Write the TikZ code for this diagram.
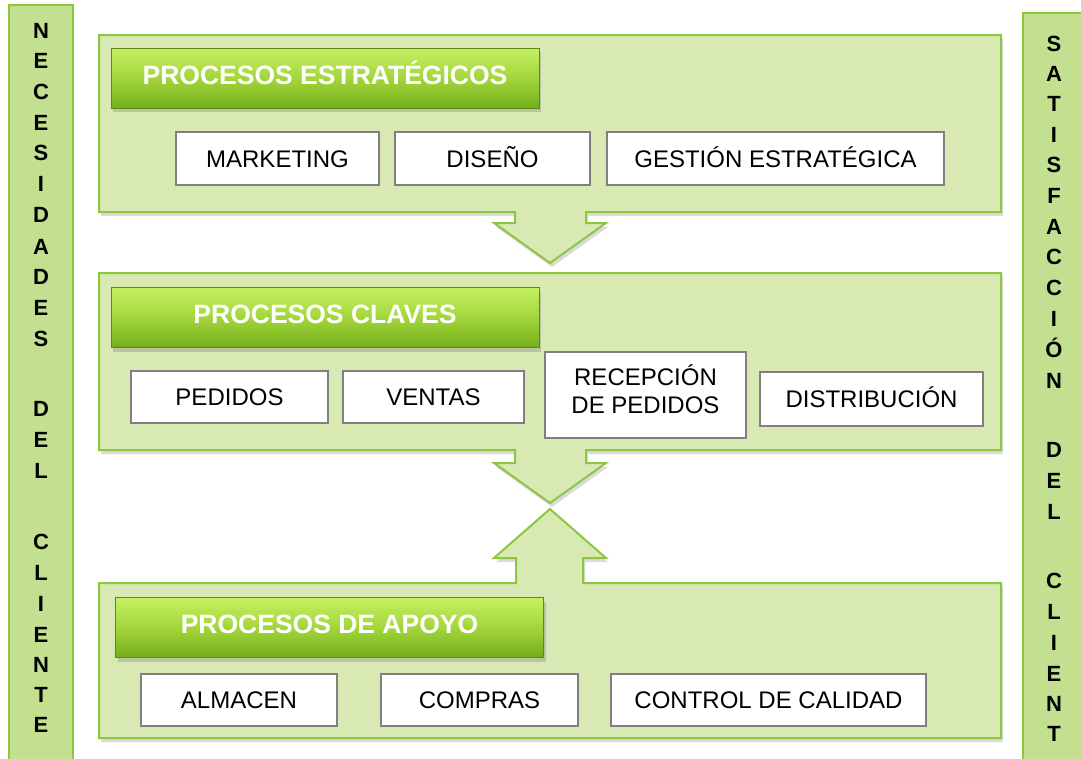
\documentclass[tikz,border=0pt]{standalone}
\usepackage{fontspec}
\setmainfont{Liberation Sans}
\usetikzlibrary{shadows}
\definecolor{panelfill}{HTML}{D8E9B4}
\definecolor{panelline}{HTML}{8DC63F}
\definecolor{barfill}{HTML}{C3DF90}
\definecolor{hdtop}{HTML}{C6F062}
\definecolor{hdmid}{HTML}{A3D63B}
\definecolor{hdbot}{HTML}{73AE1A}
\definecolor{boxline}{HTML}{808080}
\tikzset{
  panel/.style={fill=panelfill, draw=panelline, line width=2pt,
    drop shadow={opacity=0.28, shadow xshift=2pt, shadow yshift=-4pt}},
  sidebar/.style={fill=barfill, draw=panelline, line width=2pt},
  header/.style={rectangle, top color=hdtop, bottom color=hdbot, middle color=hdmid,
    draw=hdbot!80!black, line width=0.6pt, minimum width=428pt, minimum height=60pt,
    text=white, font=\fontsize{26.5}{30}\selectfont\bfseries,
    text height=19pt, text depth=7pt, inner sep=0pt,
    drop shadow={opacity=0.35, shadow xshift=2pt, shadow yshift=-4pt}},
  procbox/.style={rectangle, fill=white, draw=boxline, line width=2pt,
    font=\fontsize{24}{28}\selectfont, align=center, inner sep=0pt},
  oneline/.style={text height=17.2pt, text depth=0pt},
  boxtext/.style={font=\fontsize{24}{28}\selectfont, align=center, inner sep=0pt},
  barletter/.style={anchor=base, font=\fontsize{22}{24}\selectfont\bfseries, inner sep=0pt}
}
\begin{document}
\begin{tikzpicture}[x=1pt,y=-1pt]
\useasboundingbox (0,0) rectangle (1081,758);
\fill[white] (0,0) rectangle (1081,758);
% side bars
\draw[sidebar] (9,5) rectangle (73,762);
\draw[sidebar] (1023,13) rectangle (1090,762);
\foreach \ch/\yy [count=\i] in {N/30,E/60,C/91,E/122,S/152,I/183,D/214,A/246,D/276,E/307,S/338,D/408,E/439,L/470,C/541,L/572,I/603,E/634,N/664,T/694,E/724}
  \node[barletter] (l\i) at (41,\yy+8) {\ch};
\foreach \ch/\yy [count=\i] in {S/43,A/73,T/103,I/134,S/164,F/195,A/226,C/256,C/287,I/318,Ó/349,N/380,D/449,E/480,L/511,C/580,L/611,I/642,E/673,N/703,T/733}
  \node[barletter] (r\i) at (1054,\yy+8) {\ch};
% panels
\draw[panel] (99,35) -- (1001,35) -- (1001,212) -- (586,212) -- (586,223) -- (606,223)
  -- (550,263) -- (494,223) -- (515,223) -- (515,212) -- (99,212) -- cycle;
\draw[panel] (99,273) -- (1001,273) -- (1001,450) -- (586,450) -- (586,463) -- (606,463)
  -- (550,503) -- (494,463) -- (515,463) -- (515,450) -- (99,450) -- cycle;
\draw[panel] (99,583) -- (516,583) -- (516,558) -- (494,558) -- (550,509) -- (606,558)
  -- (583,558) -- (583,583) -- (1001,583) -- (1001,738) -- (99,738) -- cycle;
% headers
\node[header] (h1) at (325,78) {PROCESOS ESTRATÉGICOS};
\node[header] (h2) at (325,317.5) {PROCESOS CLAVES};
\node[header] (h3) at (329.5,627.5) {PROCESOS DE APOYO};
% boxes top
\node[procbox, oneline, minimum width=203pt, minimum height=53pt] (b1) at (277.5,158.5) {MARKETING};
\node[procbox, oneline, minimum width=195pt, minimum height=53pt] (b2) at (492.5,158.5) {DISEÑO};
\node[procbox, oneline, minimum width=337pt, minimum height=53pt] (b3) at (775.5,158.5) {GESTIÓN ESTRATÉGICA};
% boxes middle
\node[procbox, oneline, minimum width=197pt, minimum height=52pt] (b4) at (229.5,397) {PEDIDOS};
\node[procbox, oneline, minimum width=181pt, minimum height=52pt] (b5) at (433.5,397) {VENTAS};
\node[procbox, minimum width=201pt, minimum height=86pt] (b6) at (645.5,395) {};
\node[boxtext] (b6t) at (645.5,389.5) {RECEPCIÓN\\DE PEDIDOS};
\node[procbox, oneline, minimum width=223pt, minimum height=54pt] (b7) at (871.5,399) {DISTRIBUCIÓN};
% boxes bottom
\node[procbox, oneline, minimum width=196pt, minimum height=52pt] (b8) at (239,700) {ALMACEN};
\node[procbox, oneline, minimum width=197pt, minimum height=52pt] (b9) at (479.5,700) {COMPRAS};
\node[procbox, oneline, minimum width=315pt, minimum height=52pt] (b10) at (768.5,700) {CONTROL DE CALIDAD};
\end{tikzpicture}
\end{document}
